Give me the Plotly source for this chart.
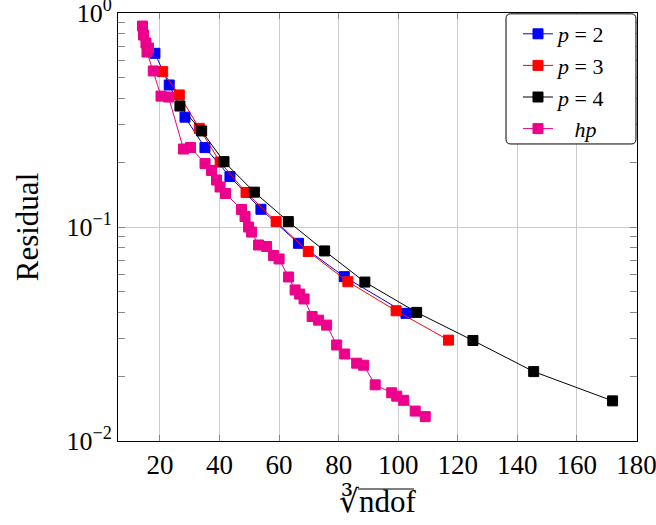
import plotly.graph_objects as go

# ---- data ----
p2_x = [18.3, 23.1, 28.4, 35.1, 43.5, 53.9, 66.5, 81.9, 102.6]
p2_y = [0.648, 0.461, 0.326, 0.235, 0.172, 0.121, 0.0839, 0.0586, 0.0395]

p3_x = [20.9, 26.5, 33.2, 40.2, 48.9, 59.0, 69.8, 83.1, 99.3, 116.9]
p3_y = [0.532, 0.414, 0.289, 0.201, 0.145, 0.106, 0.0768, 0.0555, 0.0406, 0.0296]

p4_x = [26.7, 34.0, 41.5, 51.7, 63.1, 75.3, 88.8, 106.2, 125.1, 145.5, 172.0]
p4_y = [0.3675, 0.281, 0.202, 0.1455, 0.106, 0.0773, 0.0553, 0.0399, 0.0295, 0.0211, 0.0154]

hp_x = [14.12, 14.45, 15.29, 16.13, 15.63, 17.75, 20.34, 22.86, 27.90, 30.25,
        35.13, 37.31, 38.99, 40.17, 42.02, 47.39, 48.57, 49.75, 50.76, 53.11,
        55.80, 58.15, 60.00, 63.19, 65.38, 66.89, 68.40, 71.09, 73.28, 75.97,
        79.33, 82.02, 86.05, 88.40, 92.27, 97.82, 99.50, 101.85, 105.71, 109.08]
hp_y = [0.869, 0.789, 0.724, 0.686, 0.657, 0.536, 0.409, 0.405, 0.2314, 0.2352,
        0.1980, 0.1837, 0.1658, 0.1538, 0.1434, 0.1207, 0.1119, 0.1000, 0.0947, 0.0824,
        0.0811, 0.0736, 0.0709, 0.0584, 0.0508, 0.0486, 0.0461, 0.0382, 0.0367, 0.0348,
        0.0281, 0.0255, 0.0231, 0.0226, 0.0183, 0.0168, 0.0162, 0.0155, 0.0138, 0.0130]

x_ticks = [20, 40, 60, 80, 100, 120, 140, 160, 180]
y_ticks = [0.01, 0.1, 1]
y_ticktext = ["10<sup>\u22122</sup>", "10<sup>\u22121</sup>", "10<sup>0</sup>"]
y_minor = [m * 10 ** e for e in (-2, -1) for m in range(2, 10)]

series = [
    ("<i>p</i> = 2", p2_x, p2_y, "#0000ff"),
    ("<i>p</i> = 3", p3_x, p3_y, "#ff0000"),
    ("<i>p</i> = 4", p4_x, p4_y, "#000000"),
    ("&nbsp;&nbsp;&nbsp;<i>hp</i>", hp_x, hp_y, "#ec008c"),
]

FONT = "Liberation Serif, DejaVu Serif, serif"

fig = go.Figure()
for name, xs, ys, col in series:
    fig.add_trace(go.Scatter(
        x=xs, y=ys, name=name, mode="lines+markers",
        line=dict(color=col, width=1),
        marker=dict(symbol="square", size=10, color=col, line=dict(color=col, width=1)),
    ))

fig.update_layout(
    width=656, height=525,
    margin=dict(l=118, r=19, t=13, b=84, autoexpand=False),
    plot_bgcolor="white", paper_bgcolor="white",
    font=dict(family=FONT, size=24, color="black"),
    showlegend=True,
    legend=dict(x=0.7707, xanchor="left", y=1.0, yanchor="top",
                bgcolor="rgba(0,0,0,0)", borderwidth=0,
                font=dict(family=FONT, size=22), tracegroupgap=0,
                itemwidth=30),
)

fig.update_xaxes(
    range=[5.9, 180.2], tickvals=x_ticks, ticks="inside", ticklen=6, tickcolor="#888888",
    showline=True, linecolor="black", linewidth=1, mirror="allticks",
    showgrid=True, gridcolor="#cccccc", gridwidth=1, zeroline=False,
    automargin=False, ticklabeloverflow="allow",
    tickfont=dict(family=FONT, size=27),
    title=dict(text="\u221bndof", font=dict(family=FONT, size=31), standoff=10),
)
fig.update_yaxes(
    type="log", range=[-2, 0], tickvals=y_ticks, ticktext=y_ticktext,
    ticks="inside", ticklen=7, tickcolor="#888888",
    showline=True, linecolor="black", linewidth=1, mirror="allticks",
    showgrid=True, gridcolor="#cccccc", gridwidth=1, zeroline=False,
    automargin=False, ticklabeloverflow="allow",
    minor=dict(tickvals=y_minor, ticks="inside", ticklen=7, tickcolor="#888888", showgrid=False),
    tickfont=dict(family=FONT, size=26),
    title=dict(text="Residual", font=dict(family=FONT, size=31), standoff=18),
)

# rounded legend frame (paper coordinates)
x0, x1, y0, y1 = 0.7476, 0.998, 0.694, 0.998
rx, ry = 0.009, 0.011
path = (f"M {x0+rx},{y1} L {x1-rx},{y1} Q {x1},{y1} {x1},{y1-ry} "
        f"L {x1},{y0+ry} Q {x1},{y0} {x1-rx},{y0} L {x0+rx},{y0} "
        f"Q {x0},{y0} {x0},{y0+ry} L {x0},{y1-ry} Q {x0},{y1} {x0+rx},{y1} Z")
fig.add_shape(type="path", path=path, xref="paper", yref="paper",
              line=dict(color="black", width=1), fillcolor="white", layer="above")

# vinculum of the cube-root sign in the x-axis title
fig.add_shape(type="line", xref="paper", yref="paper",
              x0=0.4624, x1=0.5703, y0=-0.1121, y1=-0.1121,
              line=dict(color="black", width=1.2))

fig.write_html("out.html")
